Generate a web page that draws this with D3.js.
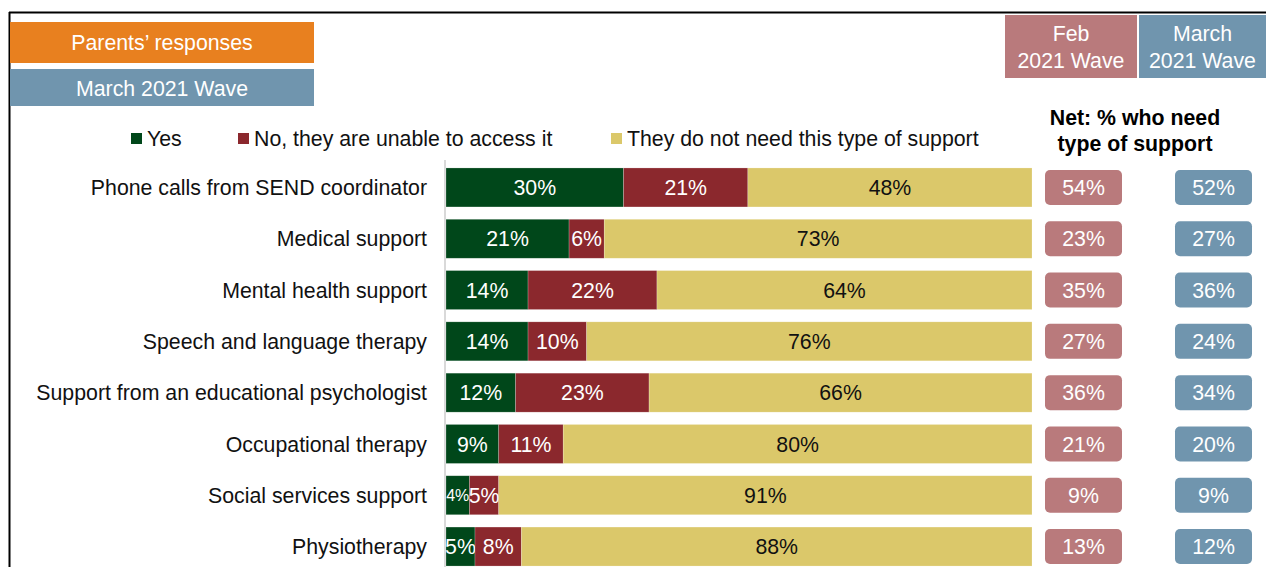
<!DOCTYPE html>
<html>
<head>
<meta charset="utf-8">
<script src="https://cdn.jsdelivr.net/npm/d3@7/dist/d3.min.js"></script>
<style>
  html, body { margin: 0; padding: 0; background: #fff; }
  svg { display: block; font-family: "Liberation Sans", Arial, sans-serif; }
</style>
</head>
<body>
<svg id="chart" width="1266" height="567"></svg>
<script>
const categories = [
  "Phone calls from SEND coordinator",
  "Medical support",
  "Mental health support",
  "Speech and language therapy",
  "Support from an educational psychologist",
  "Occupational therapy",
  "Social services support",
  "Physiotherapy"
];
const seriesNames = ["Yes", "No, they are unable to access it", "They do not need this type of support"];
const yesValues    = [30, 21, 14, 14, 12, 9, 4, 5];
const noValues     = [21, 6, 22, 10, 23, 11, 5, 8];
const notNeeded    = [48, 73, 64, 76, 66, 80, 91, 88];
const netFeb       = [54, 23, 35, 27, 36, 21, 9, 13];
const netMarch     = [52, 27, 36, 24, 34, 20, 9, 12];

const colors = ["#00471a", "#8b282d", "#dbc86a"];
const labelColors = ["#ffffff", "#ffffff", "#111111"];
const febColor = "#b97a7c";
const marColor = "#7095ae";
const orange = "#e8801f";
const FS = 21.3;
const DY = "0.36em";

const svg = d3.select("#chart");

// frame
svg.append("line").attr("x1", 9).attr("x2", 1266).attr("y1", 12.5).attr("y2", 12.5)
  .attr("stroke", "#000").attr("stroke-width", 2);
svg.append("line").attr("x1", 9.5).attr("x2", 9.5).attr("y1", 12).attr("y2", 567)
  .attr("stroke", "#000").attr("stroke-width", 2);

// header boxes
function box(x, y, w, h, fill, lines, cy) {
  svg.append("rect").attr("x", x).attr("y", y).attr("width", w).attr("height", h).attr("fill", fill);
  lines.forEach((t, i) => {
    svg.append("text").attr("x", x + w / 2).attr("y", cy[i]).attr("dy", DY)
      .attr("text-anchor", "middle")
      .attr("fill", "#fff").attr("font-size", FS).text(t);
  });
}
box(10, 22, 304, 41, orange, ["Parents\u2019 responses"], [42.5]);
box(10, 69, 304, 37, marColor, ["March 2021 Wave"], [88]);
box(1005, 15, 132, 63, febColor, ["Feb", "2021 Wave"], [33.5, 60]);
box(1139, 15, 127, 63, marColor, ["March", "2021 Wave"], [33.5, 60]);

// net header
svg.append("text").attr("x", 1135).attr("y", 117).attr("dy", DY).attr("text-anchor", "middle")
  .attr("font-weight", "bold").attr("font-size", FS)
  .text("Net: % who need");
svg.append("text").attr("x", 1135).attr("y", 143).attr("dy", DY).attr("text-anchor", "middle")
  .attr("font-weight", "bold").attr("font-size", FS)
  .text("type of support");

// legend
const legendX = [131, 238, 611];
seriesNames.forEach((n, i) => {
  svg.append("rect").attr("x", legendX[i]).attr("y", 133).attr("width", 11).attr("height", 11)
    .attr("fill", colors[i]);
  svg.append("text").attr("x", legendX[i] + 16).attr("y", 138.5).attr("dy", DY)
    .attr("font-size", FS).attr("fill", "#111").text(n);
});

// scales
const x = d3.scaleLinear().domain([0, 1]).range([446, 1032]);
const y = d3.scaleBand().domain(categories).range([161.8, 572.2])
  .paddingInner(0.24).paddingOuter(0.12);

const table = categories.map((c, i) => ({ cat: c, s0: yesValues[i], s1: noValues[i], s2: notNeeded[i] }));
const stack = d3.stack().keys(["s0", "s1", "s2"]).offset(d3.stackOffsetExpand);
const stacked = stack(table);

// axis line
svg.append("line").attr("x1", 445).attr("x2", 445).attr("y1", 160).attr("y2", 567)
  .attr("stroke", "#d9d9d9").attr("stroke-width", 2);

stacked.forEach((layer, li) => {
  const g = svg.append("g");
  g.selectAll("rect").data(layer).join("rect")
    .attr("x", d => x(d[0]))
    .attr("y", d => y(d.data.cat))
    .attr("width", d => x(d[1]) - x(d[0]))
    .attr("height", y.bandwidth())
    .attr("fill", colors[li])
    .attr("stroke", "rgba(255,255,255,0.35)").attr("stroke-width", 0.6);
  g.selectAll("text").data(layer).join("text")
    .attr("x", d => (x(d[0]) + x(d[1])) / 2)
    .attr("y", d => y(d.data.cat) + y.bandwidth() / 2)
    .attr("dy", DY)
    .attr("text-anchor", "middle")
    .attr("fill", labelColors[li])
    .attr("font-size", d => (d.data[layer.key] < 5 ? 16 : FS))
    .text(d => d.data[layer.key] + "%");
});

// category labels
svg.append("g").selectAll("text").data(categories).join("text")
  .attr("x", 427).attr("y", d => y(d) + y.bandwidth() / 2).attr("dy", DY)
  .attr("text-anchor", "end")
  .attr("font-size", FS).attr("fill", "#111").text(d => d);

// net pills
function pills(values, x0, w, fill) {
  const g = svg.append("g");
  g.selectAll("rect").data(values).join("rect")
    .attr("x", x0).attr("y", (d, i) => y(categories[i]) + y.bandwidth() / 2 - 17.5)
    .attr("width", w).attr("height", 35).attr("rx", 5).attr("fill", fill);
  g.selectAll("text").data(values).join("text")
    .attr("x", x0 + w / 2).attr("y", (d, i) => y(categories[i]) + y.bandwidth() / 2).attr("dy", DY)
    .attr("text-anchor", "middle")
    .attr("fill", "#fff").attr("font-size", FS).text(d => d + "%");
}
pills(netFeb, 1045, 77, febColor);
pills(netMarch, 1175, 77, marColor);
</script>
</body>
</html>
